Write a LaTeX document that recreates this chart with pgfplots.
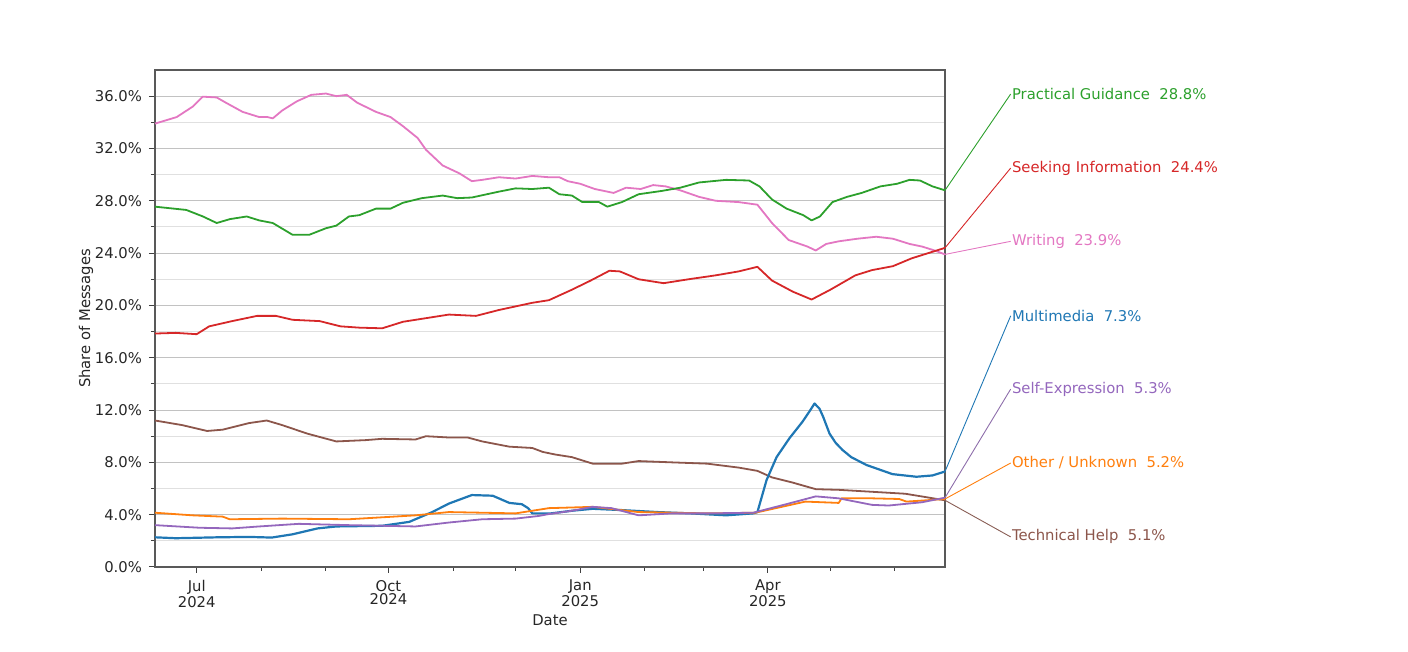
\documentclass[border=0pt]{standalone}
\usepackage{pgfplots}
\pgfplotsset{compat=1.18}
\usepackage{fontspec}
\setmainfont{DejaVu Sans}
\definecolor{tblue}{HTML}{1F77B4}
\definecolor{torange}{HTML}{FF7F0E}
\definecolor{tgreen}{HTML}{2CA02C}
\definecolor{tred}{HTML}{D62728}
\definecolor{tpurple}{HTML}{9467BD}
\definecolor{tbrown}{HTML}{8C564B}
\definecolor{tpink}{HTML}{E377C2}
\newcommand{\lf}{\fontsize{7.4}{8.6}\selectfont}
\newcommand{\lfx}{\fontsize{7.4}{6.6}\selectfont}
\begin{document}
\begin{tikzpicture}
\path[use as bounding box] (-77.5pt,-42.5pt) rectangle (626.5pt,283.5pt);
\begin{axis}[
  at={(0,0)}, anchor=south west,
  scale only axis, width=395pt, height=248.5pt,
  xmin=-20, xmax=359, ymin=0, ymax=38,
  clip=false,
  xtick={0,92,184,274},
  xticklabels={{Jul\\2024},{Oct\\2024},{Jan\\2025},{Apr\\2025}},
  minor xtick={31,62,123,153,215,243,304,335},
  ytick={0,4,...,36},
  minor ytick={2,6,...,34},
  yticklabel={\pgfmathprintnumber[fixed,fixed zerofill,precision=1]{\tick}\%},
  /pgf/number format/assume math mode=true,
  ymajorgrids, yminorgrids,
  major grid style={black!24, line width=0.5pt},
  minor grid style={black!12, line width=0.5pt},
  tick align=outside, tick pos=left,
  major tick length=3pt, minor tick length=2pt,
  tick style={black!75, line width=0.5pt},
  axis line style={black!65, line width=0.6pt},
  tick label style={font=\lf, text=black!85},
  xticklabel style={align=center, font=\lfx},
  label style={font=\lf, text=black!85},
  xlabel={Date}, ylabel={Share of Messages},
  ylabel shift=-6pt, xlabel shift=-3pt,
  every axis plot/.append style={line width=0.9pt, line join=round},
]
% Writing
\addplot[tpink] coordinates {
(-20,33.9) (-9.6,34.4) (-1.9,35.2) (2.9,35.96) (9.6,35.9) (14,35.5) (22,34.8) (30,34.4) (34,34.4) (36.5,34.3) (41,34.9) (48,35.6) (55,36.1) (62,36.2) (67,36.0) (72,36.1) (77,35.5) (86,34.8) (93,34.4) (99,33.7) (106,32.8) (110,31.9) (118,30.7) (126,30.1) (132,29.5) (137,29.6) (145,29.8) (153,29.7) (161,29.9) (169,29.8) (174,29.8) (178,29.5) (184,29.3) (191,28.9) (197,28.7) (200,28.6) (206,29.0) (213,28.9) (219,29.2) (225,29.1) (232,28.8) (241,28.3) (249,28.0) (260,27.9) (269,27.7) (276,26.3) (284,25.0) (293,24.5) (297,24.2) (302,24.7) (308,24.9) (317,25.1) (326,25.25) (334,25.1) (342,24.7) (348,24.5) (354,24.2) (359,23.9)
};
% Practical Guidance
\addplot[tgreen] coordinates {
(-20,27.55) (-5,27.3) (3,26.8) (9.6,26.3) (16,26.6) (24,26.8) (30,26.5) (36.5,26.3) (46,25.4) (54,25.4) (62,25.9) (67,26.1) (73,26.8) (78,26.9) (86,27.4) (93,27.4) (99,27.85) (108,28.2) (118,28.4) (125,28.2) (132,28.25) (145,28.7) (153,28.95) (161,28.9) (169,29.0) (174,28.5) (180,28.4) (185,27.9) (193,27.9) (197,27.55) (204,27.9) (212,28.5) (223,28.75) (232,29.0) (241,29.4) (254,29.6) (265,29.55) (270,29.1) (276,28.1) (283,27.4) (291,26.9) (295,26.5) (299,26.8) (305,27.9) (312,28.3) (319,28.6) (328,29.1) (336,29.3) (342,29.6) (347,29.55) (353,29.1) (359,28.8)
};
% Seeking Information
\addplot[tred] coordinates {
(-20,17.85) (-10,17.9) (0,17.8) (6,18.4) (17,18.8) (29,19.2) (38,19.2) (46,18.9) (59,18.8) (69,18.4) (78,18.3) (89,18.25) (99,18.75) (121,19.3) (134,19.2) (145,19.65) (161,20.2) (169,20.4) (180,21.2) (189,21.9) (198,22.65) (203,22.6) (212,22.0) (224,21.7) (236,22.0) (249,22.3) (260,22.6) (269,22.95) (276,21.9) (286,21.05) (295,20.45) (304,21.2) (316,22.3) (324,22.7) (334,23.0) (343,23.6) (353,24.1) (359,24.4)
};
% Technical Help
\addplot[tbrown] coordinates {
(-20,11.2) (-7,10.85) (5,10.4) (12.5,10.5) (25,11.0) (33.6,11.2) (41,10.85) (53,10.2) (67,9.6) (81,9.7) (89,9.8) (105,9.75) (110,10.0) (121,9.9) (130,9.9) (137,9.6) (150,9.2) (161,9.1) (166,8.8) (172,8.6) (180,8.4) (190,7.9) (204,7.9) (212,8.1) (228,8.0) (245,7.9) (260,7.6) (269,7.35) (276,6.85) (286,6.45) (297,5.95) (308,5.9) (324,5.75) (340,5.6) (359,5.1)
};
% Multimedia
\addplot[tblue, line width=1.1pt] coordinates {
(-20,2.27) (-10,2.2) (10,2.27) (25,2.3) (36,2.25) (46,2.5) (58,2.95) (67,3.1) (89,3.15) (102,3.45) (113,4.2) (121,4.85) (132,5.5) (142,5.45) (150,4.9) (156,4.8) (159,4.5) (161,4.1) (170,4.1) (180,4.3) (190,4.45) (204,4.35) (221,4.2) (237,4.1) (254,3.95) (267,4.1) (269,4.2) (273.4,6.65) (278.2,8.4) (284.4,9.85) (290.6,11.1) (294,11.9) (296.4,12.5) (298.8,12.1) (300.5,11.5) (303.6,10.2) (306.5,9.5) (309.8,8.95) (314,8.4) (321.3,7.8) (333.8,7.1) (345.3,6.9) (353,7.0) (359,7.3)
};
% Other / Unknown
\addplot[torange] coordinates {
(-20,4.15) (-2,3.95) (12.5,3.85) (15.8,3.65) (41,3.7) (73,3.65) (89,3.8) (105,3.95) (121,4.2) (137,4.15) (153,4.1) (169,4.5) (180,4.55) (190,4.6) (212,4.2) (245,4.1) (268,4.15) (292,5.0) (308,4.9) (309.4,5.25) (324,5.25) (337,5.2) (340.5,5.0) (350,5.1) (359,5.2)
};
% Self-Expression
\addplot[tpurple] coordinates {
(-20,3.2) (1.4,3.0) (17,2.95) (30,3.1) (49,3.3) (73,3.2) (105,3.1) (121,3.4) (137,3.65) (153,3.7) (164,3.9) (169,4.05) (180,4.3) (190,4.6) (199,4.5) (212,3.95) (228,4.1) (245,4.1) (267,4.15) (284,4.85) (297,5.4) (308,5.25) (324,4.75) (332,4.7) (348,4.95) (359,5.3)
};
% connectors
\addplot[tgreen, line width=0.45pt] coordinates {(359,28.8) (390.5,36.16)};
\addplot[tred, line width=0.45pt] coordinates {(359,24.4) (390.5,30.5)};
\addplot[tpink, line width=0.45pt] coordinates {(359,23.9) (390.5,24.9)};
\addplot[tblue, line width=0.45pt] coordinates {(359,7.3) (390.5,19.2)};
\addplot[tpurple!70!gray, line width=0.45pt] coordinates {(359,5.3) (390.5,13.6)};
\addplot[torange, line width=0.45pt] coordinates {(359,5.2) (390.5,7.95)};
\addplot[tbrown!80!gray, line width=0.45pt] coordinates {(359,5.1) (390.5,2.3)};
\node[anchor=west, inner sep=0.5pt, font=\lf, text=tgreen] at (axis cs:390.5,36.16) {Practical Guidance\ \ 28.8\%};
\node[anchor=west, inner sep=0.5pt, font=\lf, text=tred] at (axis cs:390.5,30.5) {Seeking Information\ \ 24.4\%};
\node[anchor=west, inner sep=0.5pt, font=\lf, text=tpink] at (axis cs:390.5,24.9) {Writing\ \ 23.9\%};
\node[anchor=west, inner sep=0.5pt, font=\lf, text=tblue] at (axis cs:390.5,19.2) {Multimedia\ \ 7.3\%};
\node[anchor=west, inner sep=0.5pt, font=\lf, text=tpurple] at (axis cs:390.5,13.6) {Self-Expression\ \ 5.3\%};
\node[anchor=west, inner sep=0.5pt, font=\lf, text=torange] at (axis cs:390.5,7.95) {Other / Unknown\ \ 5.2\%};
\node[anchor=west, inner sep=0.5pt, font=\lf, text=tbrown] at (axis cs:390.5,2.3) {Technical Help\ \ 5.1\%};
\end{axis}
\end{tikzpicture}
\end{document}
